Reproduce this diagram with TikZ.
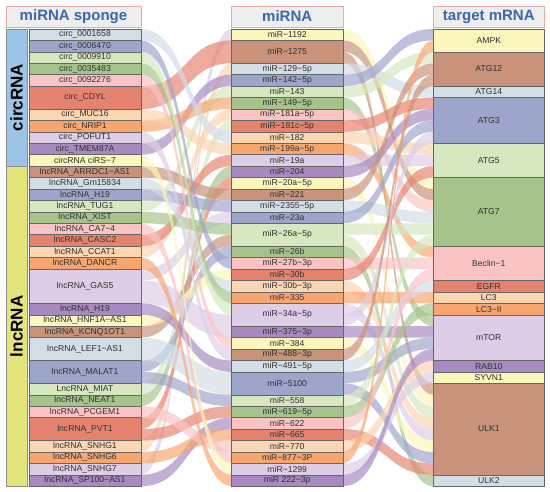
\documentclass[tikz,border=0pt]{standalone}
\usepackage{fontspec}
\setmainfont{Liberation Sans}
\definecolor{cY}{HTML}{FBF6BB}
\definecolor{cBr}{HTML}{C9927A}
\definecolor{cLb}{HTML}{D2DEE6}
\definecolor{cSl}{HTML}{9EA5CB}
\definecolor{cLg}{HTML}{D6E8C0}
\definecolor{cG}{HTML}{A6C38C}
\definecolor{cPk}{HTML}{FAC4C4}
\definecolor{cR}{HTML}{E6836F}
\definecolor{cPe}{HTML}{FCD5B2}
\definecolor{cO}{HTML}{F8A670}
\definecolor{cLv}{HTML}{DDCDE6}
\definecolor{cPu}{HTML}{A78ABF}
\definecolor{cCirc}{HTML}{9DC3E6}
\definecolor{cLnc}{HTML}{E3E47A}
\definecolor{hdrfill}{HTML}{EEEEEE}
\definecolor{hdrline}{HTML}{EFA9A5}
\definecolor{hdrtext}{HTML}{3B66B0}
\definecolor{txtgray}{HTML}{303030}
\newcommand{\uh}{11.43}
\newcommand{\alluv}[5]{%
  \pgfmathsetmacro\aLa{29+\uh*#1}\pgfmathsetmacro\aLb{\aLa+\uh}%
  \pgfmathsetmacro\aMa{29+\uh*#2}\pgfmathsetmacro\aMb{\aMa+\uh}%
  \pgfmathsetmacro\aRa{29+\uh*#3}\pgfmathsetmacro\aRb{\aRa+\uh}%
  \fill[#4,flowband] (141,\aLa) .. controls (189,\aLa) and (184,\aMa) .. (232,\aMa)
     -- (232,\aMb) .. controls (184,\aMb) and (189,\aLb) .. (141,\aLb) -- cycle;
  \fill[#5,flowband] (343,\aMa) .. controls (391,\aMa) and (386,\aRa) .. (433,\aRa)
     -- (433,\aRb) .. controls (386,\aRb) and (391,\aMb) .. (343,\aMb) -- cycle;
}
\newcommand{\strat}[6]{%
  \node[stratum,fill=#5,minimum width=111.5,minimum height={\uh*#4}] (#1) at (#2,{29+\uh*(#3+#4/2)}) {#6};
}
\begin{document}
\begin{tikzpicture}[x=1pt,y=-1pt,
  flowband/.style={opacity=0.68},
  stratum/.style={draw=black!60,line width=0.5pt,inner sep=0pt,text=txtgray,
     font=\fontsize{8.6}{10}\selectfont},
  hdr/.style={draw=hdrline,fill=hdrfill,line width=0.8pt,minimum height=21,inner sep=0pt,
     text=hdrtext,font=\fontsize{15}{17}\selectfont\bfseries},
  catbar/.style={draw=black!45,line width=0.5pt,minimum width=21,inner sep=0pt},
  cattext/.style={rotate=90,font=\fontsize{17}{19}\selectfont\bfseries,text=black}]
\useasboundingbox (0,0) rectangle (550,491);
\fill[white] (0,0) rectangle (550,491);
% flows
\alluv{38}{0}{13}{cLv}{cY}
\alluv{5}{1}{14}{cR}{cBr}
\alluv{6}{2}{31}{cR}{cBr}
\alluv{36}{3}{5}{cPe}{cLb}
\alluv{10}{4}{0}{cPu}{cSl}
\alluv{15}{5}{2}{cLg}{cLg}
\alluv{8}{6}{25}{cO}{cG}
\alluv{19}{7}{15}{cPe}{cPk}
\alluv{31}{8}{6}{cLg}{cR}
\alluv{0}{9}{10}{cLb}{cPe}
\alluv{7}{10}{19}{cPe}{cO}
\alluv{18}{11}{11}{cR}{cLv}
\alluv{32}{12}{7}{cG}{cPu}
\alluv{34}{13}{32}{cR}{cY}
\alluv{12}{14}{3}{cBr}{cBr}
\alluv{14}{15}{16}{cSl}{cLb}
\alluv{21}{16}{8}{cLv}{cSl}
\alluv{16}{17}{17}{cG}{cLg}
\alluv{26}{18}{33}{cBr}{cLg}
\alluv{29}{19}{39}{cSl}{cG}
\alluv{1}{20}{20}{cSl}{cPk}
\alluv{25}{21}{12}{cY}{cR}
\alluv{13}{22}{34}{cLb}{cPe}
\alluv{3}{23}{23}{cG}{cO}
\alluv{2}{24}{35}{cLg}{cLv}
\alluv{22}{25}{9}{cLv}{cLv}
\alluv{23}{26}{26}{cLv}{cPu}
\alluv{4}{27}{36}{cPk}{cY}
\alluv{9}{28}{4}{cLv}{cBr}
\alluv{24}{29}{22}{cPu}{cLb}
\alluv{27}{30}{27}{cLb}{cSl}
\alluv{28}{31}{37}{cLb}{cSl}
\alluv{30}{32}{18}{cSl}{cLg}
\alluv{35}{33}{24}{cR}{cG}
\alluv{39}{34}{21}{cPu}{cPk}
\alluv{37}{35}{38}{cO}{cR}
\alluv{33}{36}{29}{cPk}{cPe}
\alluv{17}{37}{1}{cPk}{cO}
\alluv{11}{38}{30}{cY}{cLv}
\alluv{20}{39}{28}{cO}{cPu}
% headers
\node[hdr,minimum width=135] (h1) at (73.5,16.5) {miRNA sponge};
\node[hdr,minimum width=111.5] (h2) at (287.2,16.5) {miRNA};
\node[hdr,minimum width=111.5] (h3) at (488.8,16.5) {target mRNA};
% category bars
\node[catbar,fill=cCirc,minimum height=137] (bc) at (16.5,97.6) {};
\node[cattext] (tc) at (bc.center) {circRNA};
\node[catbar,fill=cLnc,minimum height=320] (bl) at (16.5,326.3) {};
\node[cattext] (tl) at (bl.center) {lncRNA};
% left strata
\strat{l0}{85}{0}{1}{cLb}{circ\_0001658}
\strat{l1}{85}{1}{1}{cSl}{circ\_0006470}
\strat{l2}{85}{2}{1}{cLg}{circ\_0009910}
\strat{l3}{85}{3}{1}{cG}{circ\_0035483}
\strat{l4}{85}{4}{1}{cPk}{circ\_0092276}
\strat{l5}{85}{5}{2}{cR}{circ\_CDYL}
\strat{l6}{85}{7}{1}{cPe}{circ\_MUC16}
\strat{l7}{85}{8}{1}{cO}{circ\_NRIP1}
\strat{l8}{85}{9}{1}{cLv}{circ\_POFUT1}
\strat{l9}{85}{10}{1}{cPu}{circ\_TMEM87A}
\strat{l10}{85}{11}{1}{cY}{circRNA ciRS−7}
\strat{l11}{85}{12}{1}{cBr}{lncRNA\_ARRDC1−AS1}
\strat{l12}{85}{13}{1}{cLb}{lncRNA\_Gm15834}
\strat{l13}{85}{14}{1}{cSl}{lncRNA\_H19}
\strat{l14}{85}{15}{1}{cLg}{lncRNA\_TUG1}
\strat{l15}{85}{16}{1}{cG}{lncRNA\_XIST}
\strat{l16}{85}{17}{1}{cPk}{lncRNA\_CA7−4}
\strat{l17}{85}{18}{1}{cR}{lncRNA\_CASC2}
\strat{l18}{85}{19}{1}{cPe}{lncRNA\_CCAT1}
\strat{l19}{85}{20}{1}{cO}{lncRNA\_DANCR}
\strat{l20}{85}{21}{3}{cLv}{lncRNA\_GAS5}
\strat{l21}{85}{24}{1}{cPu}{lncRNA\_H19}
\strat{l22}{85}{25}{1}{cY}{lncRNA\_HNF1A−AS1}
\strat{l23}{85}{26}{1}{cBr}{lncRNA\_KCNQ1OT1}
\strat{l24}{85}{27}{2}{cLb}{lncRNA\_LEF1−AS1}
\strat{l25}{85}{29}{2}{cSl}{lncRNA\_MALAT1}
\strat{l26}{85}{31}{1}{cLg}{LncRNA\_MIAT}
\strat{l27}{85}{32}{1}{cG}{lncRNA\_NEAT1}
\strat{l28}{85}{33}{1}{cPk}{lncRNA\_PCGEM1}
\strat{l29}{85}{34}{2}{cR}{lncRNA\_PVT1}
\strat{l30}{85}{36}{1}{cPe}{lncRNA\_SNHG1}
\strat{l31}{85}{37}{1}{cO}{lncRNA\_SNHG6}
\strat{l32}{85}{38}{1}{cLv}{lncRNA\_SNHG7}
\strat{l33}{85}{39}{1}{cPu}{lncRNA\_SP100−AS1}
% middle strata
\strat{m0}{287.2}{0}{1}{cY}{miR−1192}
\strat{m1}{287.2}{1}{2}{cBr}{miR−1275}
\strat{m2}{287.2}{3}{1}{cLb}{miR−129−5p}
\strat{m3}{287.2}{4}{1}{cSl}{miR−142−5p}
\strat{m4}{287.2}{5}{1}{cLg}{miR−143}
\strat{m5}{287.2}{6}{1}{cG}{miR−149−5p}
\strat{m6}{287.2}{7}{1}{cPk}{miR−181a−5p}
\strat{m7}{287.2}{8}{1}{cR}{miR−181c−5p}
\strat{m8}{287.2}{9}{1}{cPe}{miR−182}
\strat{m9}{287.2}{10}{1}{cO}{miR−199a−5p}
\strat{m10}{287.2}{11}{1}{cLv}{miR−19a}
\strat{m11}{287.2}{12}{1}{cPu}{miR−204}
\strat{m12}{287.2}{13}{1}{cY}{miR−20a−5p}
\strat{m13}{287.2}{14}{1}{cBr}{miR−221}
\strat{m14}{287.2}{15}{1}{cLb}{miR−2355−5p}
\strat{m15}{287.2}{16}{1}{cSl}{miR−23a}
\strat{m16}{287.2}{17}{2}{cLg}{miR−26a−5p}
\strat{m17}{287.2}{19}{1}{cG}{miR−26b}
\strat{m18}{287.2}{20}{1}{cPk}{miR−27b−3p}
\strat{m19}{287.2}{21}{1}{cR}{miR−30b}
\strat{m20}{287.2}{22}{1}{cPe}{miR−30b−3p}
\strat{m21}{287.2}{23}{1}{cO}{miR−335}
\strat{m22}{287.2}{24}{2}{cLv}{miR−34a−5p}
\strat{m23}{287.2}{26}{1}{cPu}{miR−375−3p}
\strat{m24}{287.2}{27}{1}{cY}{miR−384}
\strat{m25}{287.2}{28}{1}{cBr}{miR−488−3p}
\strat{m26}{287.2}{29}{1}{cLb}{miR−491−5p}
\strat{m27}{287.2}{30}{2}{cSl}{miR−5100}
\strat{m28}{287.2}{32}{1}{cLg}{miR−558}
\strat{m29}{287.2}{33}{1}{cG}{miR−619−5p}
\strat{m30}{287.2}{34}{1}{cPk}{miR−622}
\strat{m31}{287.2}{35}{1}{cR}{miR−665}
\strat{m32}{287.2}{36}{1}{cPe}{miR−770}
\strat{m33}{287.2}{37}{1}{cO}{miR−877−3P}
\strat{m34}{287.2}{38}{1}{cLv}{miR−1299}
\strat{m35}{287.2}{39}{1}{cPu}{miR 222−3p}
% right strata
\strat{r0}{488.8}{0}{2}{cY}{AMPK}
\strat{r1}{488.8}{2}{3}{cBr}{ATG12}
\strat{r2}{488.8}{5}{1}{cLb}{ATG14}
\strat{r3}{488.8}{6}{4}{cSl}{ATG3}
\strat{r4}{488.8}{10}{3}{cLg}{ATG5}
\strat{r5}{488.8}{13}{6}{cG}{ATG7}
\strat{r6}{488.8}{19}{3}{cPk}{Beclin−1}
\strat{r7}{488.8}{22}{1}{cR}{EGFR}
\strat{r8}{488.8}{23}{1}{cPe}{LC3}
\strat{r9}{488.8}{24}{1}{cO}{LC3−II}
\strat{r10}{488.8}{25}{4}{cLv}{mTOR}
\strat{r11}{488.8}{29}{1}{cPu}{RAB10}
\strat{r12}{488.8}{30}{1}{cY}{SYVN1}
\strat{r13}{488.8}{31}{8}{cBr}{ULK1}
\strat{r14}{488.8}{39}{1}{cLb}{ULK2}
\end{tikzpicture}
\end{document}
